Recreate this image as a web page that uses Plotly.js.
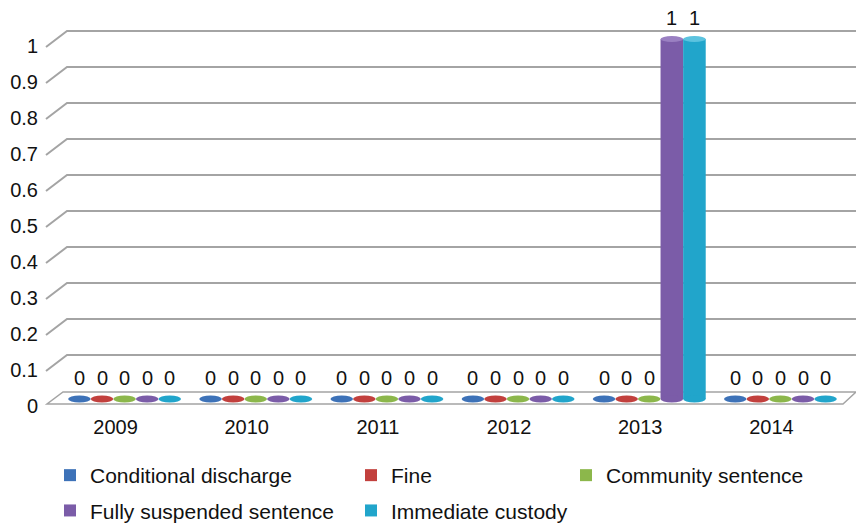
<!DOCTYPE html>
<html><head><meta charset="utf-8">
<script src="https://cdn.plot.ly/plotly-3.0.1.min.js"></script>
<style>html,body{margin:0;padding:0;background:#fff}#chart{width:856px;height:523px}</style>
</head><body><div id="chart"></div>
<script>
// ---- data ----
const years = ['2009', '2010', '2011', '2012', '2013', '2014'];
const conditionalDischarge = [0, 0, 0, 0, 0, 0];
const fine = [0, 0, 0, 0, 0, 0];
const communitySentence = [0, 0, 0, 0, 0, 0];
const fullySuspendedSentence = [0, 0, 0, 0, 1, 0];
const immediateCustody = [0, 0, 0, 0, 1, 0];
const seriesNames = ['Conditional discharge', 'Fine', 'Community sentence', 'Fully suspended sentence', 'Immediate custody'];
const yTickValues = [0, 0.1, 0.2, 0.3, 0.4, 0.5, 0.6, 0.7, 0.8, 0.9, 1];

// ---- styling ----
const seriesValues = [conditionalDischarge, fine, communitySentence, fullySuspendedSentence, immediateCustody];
const colors = ['#3d72b8', '#c2403d', '#8cb74b', '#7b5ca8', '#21a5cb'];
const topColors = ['#6a95cf', '#d86f6c', '#aacd78', '#9a80c2', '#5cc3df'];
const legendIds = ['legend', 'legend2', 'legend3', 'legend', 'legend2'];
const FONT = 'Liberation Sans, Arial, Helvetica, sans-serif';
const GRID = '#a4a4a4';
const BARGAP = 0.139;
const nS = seriesValues.length;
const groupW = 1 - BARGAP;
const barW = groupW / nS;
const yRange = [0, 1];
const xRange = [-0.5, years.length - 0.5];
const toPaper = v => (v - yRange[0]) / (yRange[1] - yRange[0]);
const barCenter = (i, j) => i - groupW / 2 + (j + 0.5) * barW;

const traces = seriesValues.map((vals, j) => ({
  type: 'bar',
  x: years,
  y: vals,
  name: seriesNames[j],
  legend: legendIds[j],
  legendgroup: seriesNames[j],
  marker: {color: colors[j], line: {width: 0}},
  hoverinfo: 'skip'
}));

const shapes = [];
// floor
shapes.push({
  type: 'path', layer: 'below',
  xref: 'paper', yref: 'paper', xsizemode: 'pixel', ysizemode: 'pixel',
  xanchor: 0, yanchor: toPaper(0),
  path: 'M-12,-5L784,-5L797,7L4,7Z',
  fillcolor: '#ffffff', line: {color: GRID, width: 1.5}
});
// back-wall gridlines with perspective stub
yTickValues.filter(v => v > 0).forEach(v => {
  shapes.push({
    type: 'path', layer: 'below',
    xref: 'paper', yref: 'paper', xsizemode: 'pixel', ysizemode: 'pixel',
    xanchor: 0, yanchor: toPaper(v),
    path: 'M-13,-8L8,8L797,8',
    line: {color: GRID, width: 2}
  });
});
// cylinder end caps
seriesValues.forEach((vals, j) => {
  vals.forEach((v, i) => {
    const c = barCenter(i, j);
    shapes.push({
      type: 'circle', xref: 'x', yref: 'paper', ysizemode: 'pixel',
      yanchor: toPaper(0), x0: c - barW / 2, x1: c + barW / 2, y0: -3.5, y1: 3.5,
      fillcolor: colors[j], line: {width: 0}
    });
    if (v > 0) {
      shapes.push({
        type: 'circle', xref: 'x', yref: 'paper', ysizemode: 'pixel',
        yanchor: toPaper(v), x0: c - barW / 2, x1: c + barW / 2, y0: -3, y1: 3,
        fillcolor: topColors[j], line: {width: 0}
      });
    }
  });
});

// value labels
const annotations = [];
seriesValues.forEach((vals, j) => {
  vals.forEach((v, i) => {
    annotations.push({
      x: barCenter(i, j), y: v, xref: 'x', yref: 'y',
      text: String(v), showarrow: false, yshift: 21,
      font: {family: FONT, size: 20, color: '#111'}
    });
  });
});

const legendBase = {
  xref: 'container', yref: 'container', xanchor: 'left', yanchor: 'top',
  y: 1 - 455 / 523, font: {family: FONT, size: 21, color: '#111'},
  bgcolor: 'rgba(0,0,0,0)', tracegroupgap: 5, orientation: 'v'
};

const layout = {
  width: 856, height: 523,
  margin: {l: 59, r: 10, t: 39, b: 124, autoexpand: false},
  paper_bgcolor: '#ffffff', plot_bgcolor: 'rgba(0,0,0,0)',
  font: {family: FONT, color: '#111'},
  barmode: 'group', bargap: BARGAP, bargroupgap: 0,
  showlegend: true,
  legend: Object.assign({}, legendBase, {x: 50 / 856}),
  legend2: Object.assign({}, legendBase, {x: 351 / 856}),
  legend3: Object.assign({}, legendBase, {x: 566 / 856}),
  xaxis: {
    type: 'category', categoryorder: 'array', categoryarray: years,
    range: xRange, autorange: false,
    showgrid: false, zeroline: false, showline: false, ticks: '',
    tickfont: {family: FONT, size: 20, color: '#111'},
    ticklabelshift: -9, ticklabelstandoff: 14, fixedrange: true
  },
  yaxis: {
    range: yRange, autorange: false, tickvals: yTickValues,
    showgrid: false, zeroline: false, showline: false, ticks: '',
    tickfont: {family: FONT, size: 20, color: '#111'},
    ticklabelshift: 7, ticklabelstandoff: 20, fixedrange: true
  },
  shapes: shapes,
  annotations: annotations
};

Plotly.newPlot('chart', traces, layout, {displayModeBar: false, staticPlot: true});
</script>
</body></html>
